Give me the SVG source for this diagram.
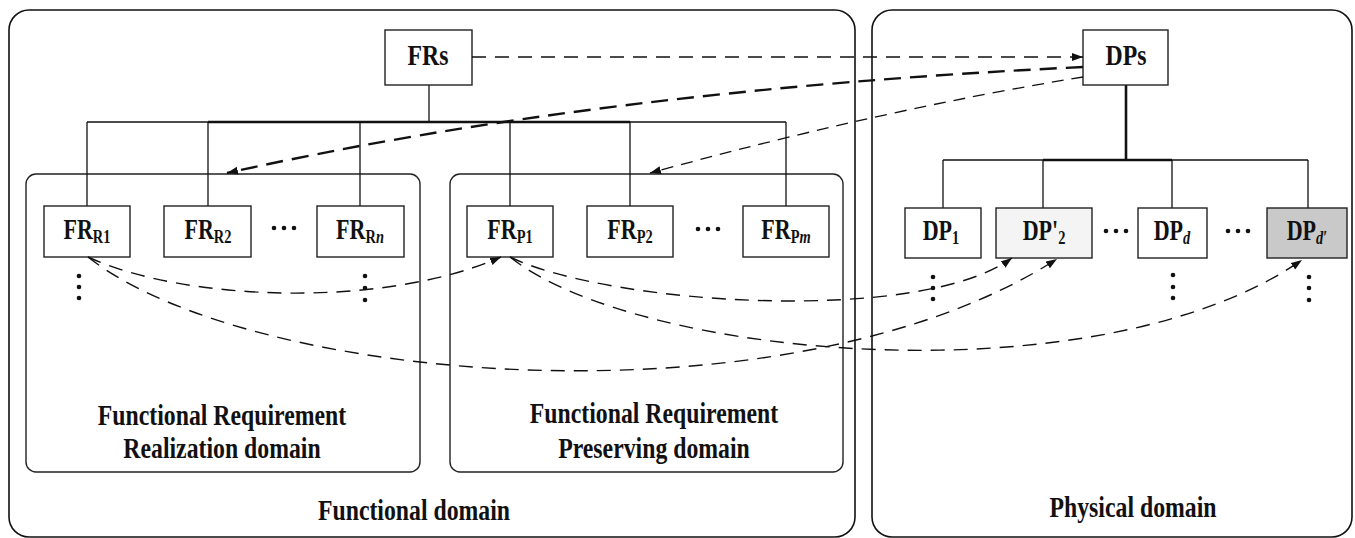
<svg xmlns="http://www.w3.org/2000/svg" width="1355" height="538" viewBox="0 0 1355 538">
<defs>
<style>
.dom{fill:none;stroke:#111;stroke-width:1.6}
.sub{fill:none;stroke:#222;stroke-width:1.4}
.box{fill:#fff;stroke:#222;stroke-width:1.4}
.tree{fill:none;stroke:#111;stroke-width:1.3}
.thick{fill:none;stroke:#111;stroke-width:2.6}
.dash{fill:none;stroke:#111;stroke-width:1.4;stroke-dasharray:14 9}
.bold{fill:none;stroke:#111;stroke-width:2.4;stroke-dasharray:17 9}
.thin{fill:none;stroke:#111;stroke-width:1.3;stroke-dasharray:12 8}
text{font-family:"Liberation Serif","Times New Roman",serif;font-weight:bold;fill:#111;text-anchor:middle}
.big{font-size:29px}
.lbl{font-size:29px}
.s{font-size:19px}
.i{font-style:italic}
.dot{fill:#111}
</style>
<marker id="ah" markerUnits="userSpaceOnUse" markerWidth="12" markerHeight="9" refX="11" refY="4" orient="auto">
<path d="M0,0 L11,4 L0,8 z" fill="#111"/>
</marker>
</defs>

<g id="functional-domain">
<rect class="dom" x="9" y="10" width="846" height="527" rx="20"/>
<text class="big" transform="translate(414,520) scale(0.82,1)">Functional domain</text>
</g>
<g id="physical-domain">
<rect class="dom" x="872" y="10" width="480" height="527" rx="20"/>
<text class="big" transform="translate(1133,517) scale(0.82,1)">Physical domain</text>
</g>
<g id="realization-domain">
<rect class="sub" x="26" y="174" width="394" height="298" rx="10"/>
<text class="big" transform="translate(222,425) scale(0.82,1)">Functional Requirement</text>
<text class="big" transform="translate(222,458) scale(0.82,1)">Realization domain</text>
</g>
<g id="preserving-domain">
<rect class="sub" x="450" y="174" width="393" height="298" rx="10"/>
<text class="big" transform="translate(654,423) scale(0.82,1)">Functional Requirement</text>
<text class="big" transform="translate(654,458) scale(0.82,1)">Preserving domain</text>
</g>

<g id="tree-lines">
<line class="tree" x1="429" y1="85" x2="429" y2="122"/>
<line class="tree" x1="87" y1="122" x2="786" y2="122"/>
<line class="thick" x1="208" y1="122" x2="630" y2="122"/>
<line class="tree" x1="87" y1="122" x2="87" y2="206"/>
<line class="tree" x1="208" y1="122" x2="208" y2="206"/>
<line class="tree" x1="360" y1="122" x2="360" y2="206"/>
<line class="tree" x1="510" y1="122" x2="510" y2="206"/>
<line class="tree" x1="630" y1="122" x2="630" y2="206"/>
<line class="tree" x1="786" y1="122" x2="786" y2="206"/>
<line class="thick" x1="1126" y1="85" x2="1126" y2="160"/>
<line class="tree" x1="943" y1="160" x2="1308" y2="160"/>
<line class="thick" x1="1043" y1="160" x2="1172" y2="160"/>
<line class="tree" x1="943" y1="160" x2="943" y2="208"/>
<line class="tree" x1="1043" y1="160" x2="1043" y2="208"/>
<line class="tree" x1="1172" y1="160" x2="1172" y2="208"/>
<line class="tree" x1="1308" y1="160" x2="1308" y2="208"/>
</g>

<g id="FRs">
<rect class="box" x="385" y="30" width="87" height="55"/>
<text class="big" transform="translate(428,65) scale(0.82,1)">FRs</text>
</g>
<g id="DPs">
<rect class="box" x="1083" y="30" width="85" height="55"/>
<text class="big" transform="translate(1126,65) scale(0.82,1)">DPs</text>
</g>

<g id="FR_R1">
<rect class="box" x="44" y="206" width="86" height="51"/>
<text class="lbl" transform="translate(87,239) scale(0.76,1)">FR<tspan class="s" dy="4">R1</tspan></text>
</g>
<g id="FR_R2">
<rect class="box" x="164" y="206" width="87" height="51"/>
<text class="lbl" transform="translate(208,239) scale(0.76,1)">FR<tspan class="s" dy="4">R2</tspan></text>
</g>
<g id="FR_Rn">
<rect class="box" x="317" y="206" width="87" height="51"/>
<text class="lbl" transform="translate(360,239) scale(0.76,1)">FR<tspan class="s" dy="4">R<tspan class="i">n</tspan></tspan></text>
</g>
<g id="FR_P1">
<rect class="box" x="467" y="206" width="86" height="51"/>
<text class="lbl" transform="translate(510,239) scale(0.76,1)">FR<tspan class="s" dy="4">P1</tspan></text>
</g>
<g id="FR_P2">
<rect class="box" x="587" y="206" width="86" height="51"/>
<text class="lbl" transform="translate(630,239) scale(0.76,1)">FR<tspan class="s" dy="4">P2</tspan></text>
</g>
<g id="FR_Pm">
<rect class="box" x="743" y="206" width="86" height="51"/>
<text class="lbl" transform="translate(786,239) scale(0.76,1)">FR<tspan class="s" dy="4">P<tspan class="i">m</tspan></tspan></text>
</g>

<g id="DP_1">
<rect class="box" x="905" y="208" width="76" height="50"/>
<text class="lbl" transform="translate(941,240) scale(0.76,1)">DP<tspan class="s" dy="4">1</tspan></text>
</g>
<g id="DP_2p">
<rect class="box" x="996" y="208" width="96" height="50" style="fill:#f4f4f4"/>
<text class="lbl" transform="translate(1044,240) scale(0.76,1)">DP'<tspan class="s" dy="4">2</tspan></text>
</g>
<g id="DP_d">
<rect class="box" x="1138" y="208" width="69" height="50"/>
<text class="lbl" transform="translate(1172,240) scale(0.76,1)">DP<tspan class="s i" dy="4">d</tspan></text>
</g>
<g id="DP_dp">
<rect class="box" x="1267" y="208" width="80" height="50" style="fill:#c9c9c9"/>
<text class="lbl" transform="translate(1307,240) scale(0.76,1)">DP<tspan class="s" dy="4"><tspan class="i">d</tspan>′</tspan></text>
</g>

<g id="ellipses">
<circle class="dot" cx="274" cy="228" r="2.3"/><circle class="dot" cx="284" cy="228" r="2.3"/><circle class="dot" cx="294" cy="228" r="2.3"/>
<circle class="dot" cx="698" cy="229" r="2.3"/><circle class="dot" cx="708" cy="229" r="2.3"/><circle class="dot" cx="718" cy="229" r="2.3"/>
<circle class="dot" cx="1106" cy="231" r="2.3"/><circle class="dot" cx="1116" cy="231" r="2.3"/><circle class="dot" cx="1126" cy="231" r="2.3"/>
<circle class="dot" cx="1228" cy="231" r="2.3"/><circle class="dot" cx="1238" cy="231" r="2.3"/><circle class="dot" cx="1248" cy="231" r="2.3"/>
<circle class="dot" cx="79" cy="276" r="2.3"/><circle class="dot" cx="79" cy="287" r="2.3"/><circle class="dot" cx="79" cy="298" r="2.3"/>
<circle class="dot" cx="365" cy="276" r="2.3"/><circle class="dot" cx="365" cy="288" r="2.3"/><circle class="dot" cx="365" cy="300" r="2.3"/>
<circle class="dot" cx="933" cy="277" r="2.3"/><circle class="dot" cx="933" cy="288" r="2.3"/><circle class="dot" cx="933" cy="299" r="2.3"/>
<circle class="dot" cx="1173" cy="275" r="2.3"/><circle class="dot" cx="1173" cy="287" r="2.3"/><circle class="dot" cx="1173" cy="298" r="2.3"/>
<circle class="dot" cx="1309" cy="277" r="2.3"/><circle class="dot" cx="1309" cy="288" r="2.3"/><circle class="dot" cx="1309" cy="300" r="2.3"/>
</g>

<g id="connectors">
<path class="dash" d="M472,57 L1083,57" marker-end="url(#ah)"/>
<path class="bold" d="M1083,67 Q600,90 227,173" marker-end="url(#ah)"/>
<path class="thin" d="M1083,77 Q880,110 650,173" marker-end="url(#ah)"/>
<path class="dash" d="M88,257 C180,300 380,310 501,257" marker-end="url(#ah)"/>
<path class="dash" d="M88,257 C250,385 790,430 1057,259" marker-end="url(#ah)"/>
<path class="dash" d="M510,257 C610,305 920,325 1012,258" marker-end="url(#ah)"/>
<path class="dash" d="M510,257 C640,360 1100,400 1302,260" marker-end="url(#ah)"/>
</g>
</svg>
